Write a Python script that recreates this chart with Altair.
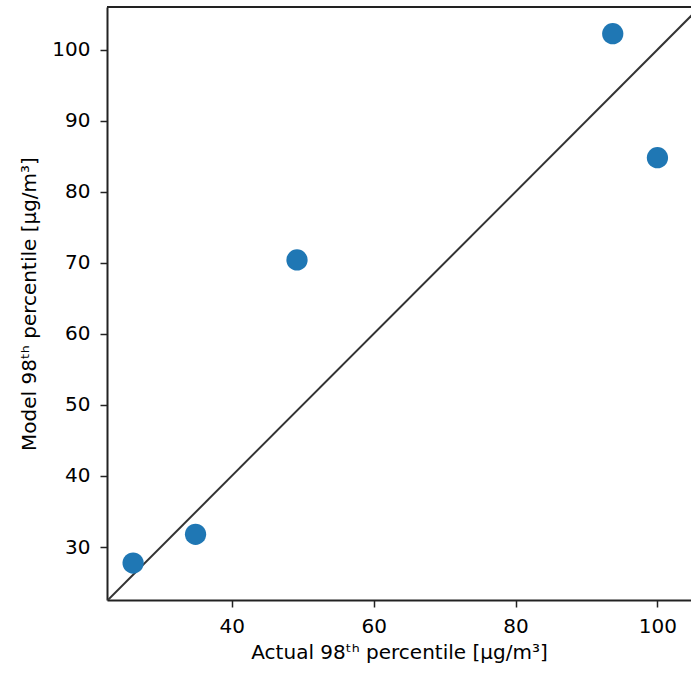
import altair as alt
import pandas as pd

actual = [26.1, 34.9, 49.2, 93.7, 100.0]
model = [27.75, 31.8, 70.4, 102.25, 84.8]
line_vals = [22.0, 107.0]

pts = pd.DataFrame({"actual": actual, "model": model})
ln = pd.DataFrame({"actual": line_vals, "model": line_vals})

W, H = 584, 593
xscale = alt.Scale(domain=[22.42, 104.73], nice=False, zero=False)
yscale = alt.Scale(domain=[22.55, 106.0], nice=False, zero=False)

common = dict(grid=False, tickSize=7,
              domainColor="#222", tickColor="#222", domainWidth=2, tickWidth=1.5,
              labelFont="DejaVu Sans", titleFont="DejaVu Sans",
              labelFontSize=20, titleFontSize=20, labelColor="#000", titleColor="#000",
              titleFontWeight="normal")

xaxis = alt.Axis(title="Actual 98ᵗʰ percentile [μg/m³]", values=[40, 60, 80, 100],
                 labelPadding=9, titlePadding=6, **common)
yaxis = alt.Axis(title="Model 98ᵗʰ percentile [μg/m³]", values=[30, 40, 50, 60, 70, 80, 90, 100],
                 labelPadding=10, titlePadding=12, **common)

line = alt.Chart(ln).mark_line(color="#333333", strokeWidth=2, clip=True).encode(
    x=alt.X("actual:Q", scale=xscale, axis=xaxis),
    y=alt.Y("model:Q", scale=yscale, axis=yaxis),
)
points = alt.Chart(pts).mark_circle(color="#1f77b4", opacity=1, size=452).encode(
    x=alt.X("actual:Q", scale=xscale),
    y=alt.Y("model:Q", scale=yscale),
)
top = alt.Chart(pts).mark_rule(color="#222", strokeWidth=2).encode(
    x=alt.value(0), x2=alt.value(W + 10), y=alt.value(0)
)

chart = alt.layer(line, points, top).properties(
    width=W, height=H,
    autosize=alt.AutoSizeParams(type="none"),
    padding={"left": 107, "top": 7, "right": 0, "bottom": 81},
    background="white",
).configure_view(stroke=None)

chart.save("out.html", embed_options={"renderer": "svg", "actions": False})
